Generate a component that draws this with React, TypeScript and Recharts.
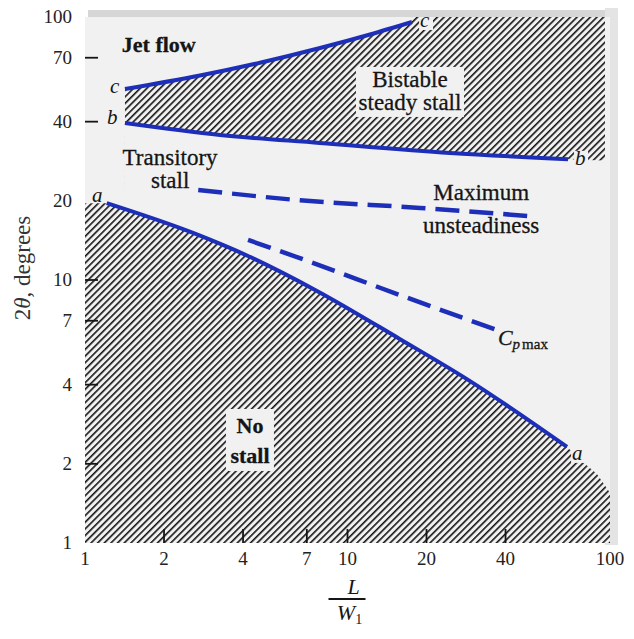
import React from 'react';
import { ComposedChart, XAxis, YAxis, Area, Line, Scatter, CartesianGrid } from 'recharts';

const BLUE = '#1d2fb8';
const INK = '#151515';
const PAPER = '#f1f1f1';
const SERIF = '"Liberation Serif", "DejaVu Serif", serif';

const xTicks = [1, 2, 4, 7, 10, 20, 40, 100];
const yTicks = [1, 2, 4, 7, 10, 20, 40, 70, 100];
const xTickMarks = [2, 4, 7, 10, 20, 40];
const yTickMarks = [2, 4, 7, 10, 40, 70];

// boundary a-a (no stall / transitory stall)
const lineA = [
  { x: 1.21, y: 19.6 },
  { x: 2.58, y: 15.1 },
  { x: 4.18, y: 12.34 },
  { x: 7.65, y: 9.09 },
  { x: 15.8, y: 5.97 },
  { x: 28.5, y: 4.2 },
  { x: 68.6, y: 2.32 },
];
// boundary b-b (transitory / bistable)
const lineB = [
  { x: 1.42, y: 39.5 },
  { x: 3.27, y: 35.6 },
  { x: 7.85, y: 33.2 },
  { x: 24.6, y: 30.4 },
  { x: 69.2, y: 28.8 },
];
// boundary c-c (jet flow / bistable)
const lineC = [
  { x: 1.42, y: 53.2 },
  { x: 2.74, y: 59.9 },
  { x: 4.64, y: 67.0 },
  { x: 7.86, y: 76.2 },
  { x: 12.18, y: 85.8 },
  { x: 17.6, y: 95.7 },
];
const maxUnsteadiness = [
  { x: 2.7, y: 22.0 },
  { x: 6.59, y: 20.1 },
  { x: 18.9, y: 18.8 },
  { x: 52.7, y: 17.4 },
];
const cpMax = [
  { x: 4.18, y: 14.2 },
  { x: 6.59, y: 12.1 },
  { x: 15.8, y: 8.77 },
  { x: 37.1, y: 6.45 },
];

const noStallZone = [
  { x: 1, y: 19.6 },
  ...lineA,
  { x: 78.9, y: 2.03 },
  { x: 89.2, y: 1.83 },
  { x: 98.3, y: 1.59 },
  { x: 100, y: 1.55 },
];
const bistableZoneTop = [...lineC, { x: 17.6, y: 100 }, { x: 95.7, y: 100 }];
const bistableZoneBottom = [...lineB, { x: 95.7, y: 28.5 }];

const regionNotes = [
  { id: 'jet', x: 1.91, y: 73.6 },
  { id: 'bistable', x: 17.3, y: 54.2 },
  { id: 'transitory', x: 2.11, y: 27.4 },
  { id: 'maximum', x: 32.3, y: 20.1 },
  { id: 'cp', x: 37.4, y: 5.66 },
  { id: 'nostall', x: 4.25, y: 2.62 },
];
const curveLetters = [
  { id: 'c1', text: 'c', x: 1.245, y: 51.4 },
  { id: 'b1', text: 'b', x: 1.213, y: 39.2 },
  { id: 'a1', text: 'a', x: 1.063, y: 19.8 },
  { id: 'c2', text: 'c', x: 18.9, y: 91.6 },
  { id: 'b2', text: 'b', x: 73.6, y: 27.4 },
  { id: 'a2', text: 'a', x: 71.7, y: 2.07 },
];

const yMarkPoints = yTickMarks.map((v) => ({ x: 1, y: v }));
const xMarkPoints = xTickMarks.map((v) => ({ x: v, y: 1 }));

const txt = { fontFamily: SERIF, fill: INK, stroke: INK, strokeWidth: 0.3 } as const;

const NoteShape = (props: any) => {
  const { cx, cy, payload } = props;
  const fs = 23;
  switch (payload.id) {
    case 'jet':
      return <text x={cx} y={cy} textAnchor="middle" fontSize={22} fontWeight="bold" {...txt}>Jet flow</text>;
    case 'bistable':
      return (
        <g>
          <rect x={cx - 54} y={cy - 20} width={108} height={50} fill={PAPER} />
          <text x={cx} y={cy} textAnchor="middle" fontSize={fs} {...txt}>Bistable</text>
          <text x={cx} y={cy + 23} textAnchor="middle" fontSize={fs} {...txt}>steady stall</text>
        </g>
      );
    case 'transitory':
      return (
        <g>
          <text x={cx} y={cy} textAnchor="middle" fontSize={fs} {...txt}>Transitory</text>
          <text x={cx} y={cy + 23} textAnchor="middle" fontSize={fs} {...txt}>stall</text>
        </g>
      );
    case 'maximum':
      return (
        <g>
          <text x={cx} y={cy} textAnchor="middle" fontSize={fs} {...txt}>Maximum</text>
          <text x={cx} y={cy + 33} textAnchor="middle" fontSize={fs} {...txt}>unsteadiness</text>
        </g>
      );
    case 'cp':
      return (
        <text x={cx} y={cy} fontSize={22} {...txt}>
          <tspan fontStyle="italic">C</tspan>
          <tspan fontStyle="italic" fontSize={15} dy={4}>p</tspan>
          <tspan fontSize={15} dx={2}>max</tspan>
        </text>
      );
    case 'nostall':
      return (
        <g>
          <rect x={cx - 24} y={cy - 24} width={48} height={62} fill={PAPER} />
          <text x={cx} y={cy} textAnchor="middle" fontSize={22} fontWeight="bold" {...txt}>No</text>
          <text x={cx} y={cy + 30} textAnchor="middle" fontSize={22} fontWeight="bold" {...txt}>stall</text>
        </g>
      );
    default:
      return <g />;
  }
};

const LetterShape = (props: any) => {
  const { cx, cy, payload } = props;
  const halo = payload.id.endsWith('2');
  return (
    <g>
      {halo && <rect x={cx - 1} y={cy - 14} width={14} height={17} fill={PAPER} />}
      <text x={cx} y={cy} fontSize={21} fontStyle="italic" fontFamily={SERIF} fill={INK}>{payload.text}</text>
    </g>
  );
};

const YMarkShape = (props: any) => {
  const { cx, cy } = props;
  return <line x1={cx - 1} x2={cx + 13} y1={cy} y2={cy} stroke={INK} strokeWidth={1.8} />;
};
const XMarkShape = (props: any) => {
  const { cx, cy } = props;
  return <line x1={cx} x2={cx} y1={cy} y2={cy - 14} stroke={INK} strokeWidth={1.8} />;
};

const YTick = (props: any) => {
  const { x, y, payload } = props;
  return (
    <text x={x} y={y + 6} textAnchor="end" fontSize={19} fontFamily={SERIF} fill="#222">{payload.value}</text>
  );
};

const XTick = (props: any) => {
  const { x, y, payload } = props;
  return (
    <text x={x} y={y + 22} textAnchor="middle" fontSize={19} fontFamily={SERIF} fill="#222">{payload.value}</text>
  );
};

const XTitle = (props: any) => {
  const vb = props.viewBox || { x: 77, y: 543, width: 525, height: 96 };
  const cx = vb.x + vb.width / 2;
  const top = vb.y;
  return (
    <g>
      <text x={cx + 6} y={top + 51} textAnchor="middle" fontSize={22} fontStyle="italic" fontFamily={SERIF} fill={INK}>L</text>
      <line x1={cx - 19} x2={cx + 18} y1={top + 56} y2={top + 56} stroke={INK} strokeWidth={2} />
      <text x={cx + 2} y={top + 77} textAnchor="middle" fontSize={22} fontFamily={SERIF} fill={INK}>
        <tspan fontStyle="italic">W</tspan>
        <tspan fontSize={14} dy={4}>1</tspan>
      </text>
    </g>
  );
};

const YTitle = (props: any) => {
  const vb = props.viewBox || { x: 0, y: 17, width: 77, height: 526 };
  const x = vb.x + 14;
  const y = vb.y + 251;
  return (
    <text x={x} y={y} transform={`rotate(-90, ${x}, ${y})`} textAnchor="middle" dominantBaseline="central" fontSize={23} fontFamily={SERIF} fill="#333">
      2<tspan fontStyle="italic">θ</tspan>, degrees
    </text>
  );
};

export default function App() {
  return (
    <div style={{ position: 'relative', width: 626, height: 639, marginTop: -8 }}>
      <div style={{ position: 'absolute', left: 80, top: 10, width: 517, height: 7, background: '#d6d6d6' }} />
      <div style={{ position: 'absolute', left: 597, top: 8, width: 13, height: 537, background: '#e4e4e4' }} />
      <div style={{ position: 'absolute', left: 0, top: 0 }}>
        <ComposedChart width={626} height={639} margin={{ top: 17, right: 24, bottom: 0, left: 0 }}>
          <defs>
            <pattern id="hatch" patternUnits="userSpaceOnUse" width={4.7} height={4.7} patternTransform="rotate(45)">
              <rect width={4.7} height={4.7} fill={PAPER} />
              <rect x={0} y={0} width={1.6} height={4.7} fill={INK} />
            </pattern>
          </defs>
          <CartesianGrid horizontal={false} vertical={false} fill={PAPER} stroke="none" />
          <Area data={bistableZoneTop} dataKey="y" type="linear" baseValue={1} fill="url(#hatch)" fillOpacity={1} stroke="none" isAnimationActive={false} />
          <Area data={bistableZoneBottom} dataKey="y" type="monotone" baseValue={1} fill={PAPER} fillOpacity={1} stroke="none" isAnimationActive={false} />
          <Area data={noStallZone} dataKey="y" type="linear" baseValue={1} fill="url(#hatch)" fillOpacity={1} stroke="none" isAnimationActive={false} />
          <Line data={lineA} dataKey="y" type="monotone" stroke={BLUE} strokeWidth={4} dot={false} isAnimationActive={false} />
          <Line data={lineB} dataKey="y" type="monotone" stroke={BLUE} strokeWidth={4} dot={false} isAnimationActive={false} />
          <Line data={lineC} dataKey="y" type="monotone" stroke={BLUE} strokeWidth={4} dot={false} isAnimationActive={false} />
          <Line data={maxUnsteadiness} dataKey="y" type="monotone" stroke={BLUE} strokeWidth={4.5} strokeDasharray="24 10" dot={false} isAnimationActive={false} />
          <Line data={cpMax} dataKey="y" type="monotone" stroke={BLUE} strokeWidth={4.5} strokeDasharray="24 10" dot={false} isAnimationActive={false} />
          <Scatter data={yMarkPoints} shape={YMarkShape} isAnimationActive={false} />
          <Scatter data={xMarkPoints} shape={XMarkShape} isAnimationActive={false} />
          <Scatter data={regionNotes} shape={NoteShape} isAnimationActive={false} />
          <Scatter data={curveLetters} shape={LetterShape} isAnimationActive={false} />
          <XAxis
            dataKey="x"
            type="number"
            scale="log"
            domain={[1, 100]}
            allowDataOverflow
            ticks={xTicks}
            interval={0}
            height={96}
            axisLine={false}
            tickLine={false}
            tickSize={0}
            tickMargin={0}
            tick={<XTick />}
            label={<XTitle />}
          />
          <YAxis
            dataKey="y"
            type="number"
            scale="log"
            domain={[1, 100]}
            allowDataOverflow
            ticks={yTicks}
            interval={0}
            width={77}
            axisLine={false}
            tickLine={false}
            tickSize={0}
            tickMargin={13}
            tick={<YTick />}
            label={<YTitle />}
          />
        </ComposedChart>
      </div>
    </div>
  );
}
